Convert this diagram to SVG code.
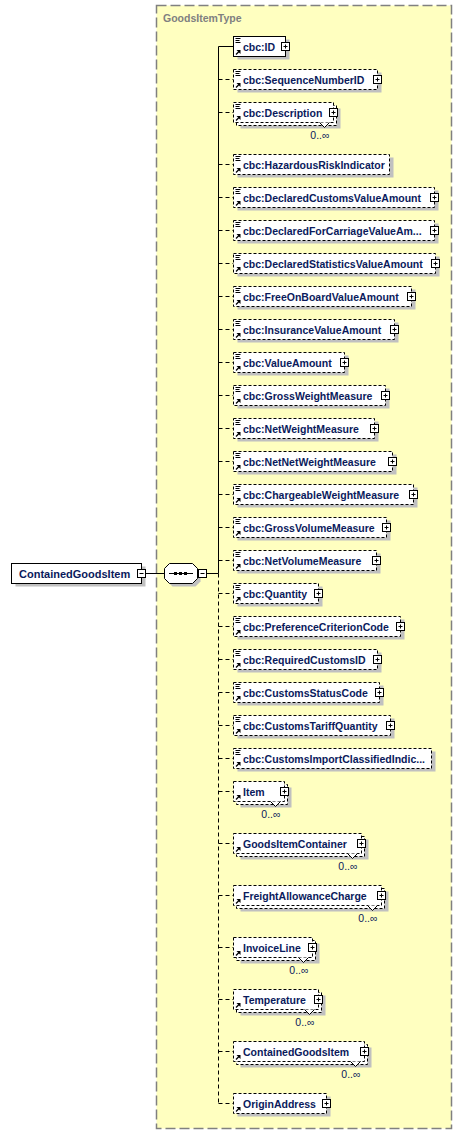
<svg xmlns="http://www.w3.org/2000/svg" xmlns:xlink="http://www.w3.org/1999/xlink" width="463" height="1135" viewBox="0 0 463 1135">
<style>
.bg{fill:#FFFFC0;stroke:#808080;stroke-width:1.5;stroke-dasharray:10,4}
.sh{fill:#C0C0C0}
.bx{fill:#fff;stroke:#000;stroke-width:1}
.opt{stroke-dasharray:3,2}
.n{font-family:"Liberation Sans",Arial,sans-serif;font-weight:bold;font-size:10.5px;fill:#0A1A5C}
.m{font-family:"Liberation Sans",Arial,sans-serif;font-size:10.5px;fill:#0A1A5C;text-anchor:end}
.ttl{font-family:"Liberation Sans",Arial,sans-serif;font-weight:bold;font-size:10.5px;fill:#808080}
.c{fill:none;stroke:#000;stroke-width:1}
.cd{fill:none;stroke:#000;stroke-width:1;stroke-dasharray:4,3}
.v{fill:#fff;stroke:#000;stroke-width:1}
</style>
<defs>
<g id="plus"><rect x="-4" y="-4" width="8" height="8" fill="#fff" stroke="#000"/><path d="M-2 0H2M0 -2V2" stroke="#000"/></g>
<g id="minus"><rect x="-4" y="-4" width="8" height="8" fill="#fff" stroke="#000"/><path d="M-2 0H2" stroke="#000"/></g>
<g id="lines"><path d="M0.5 0.5H5.5M0.5 2.5H4.5M0.5 4.5H5.5" stroke="#000" fill="none"/></g>
<g id="arrow"><path d="M1 4.5L4 1.5" stroke="#000" stroke-width="1.2" fill="none"/><path d="M1.5 0H5.5V4Z" fill="#000"/></g>
</defs>

<g id="GoodsItemType">
<rect class="bg" x="156.5" y="5.5" width="295" height="1123"/>
<text class="ttl" x="163" y="21.5">GoodsItemType</text>
</g>

<g id="connectors">
<path class="c" d="M146 573.5H164.5M206.5 573.5H218.5M218.5 46.5V573.5M218.5 46.5H233.5"/>
<path class="cd" d="M218.5 573.5V1103.5"/>
<path class="cd" d="M218.5 79.5H233.5M218.5 112.5H233.5M218.5 164.5H233.5M218.5 197.5H233.5M218.5 230.5H233.5M218.5 263.5H233.5M218.5 296.5H233.5M218.5 329.5H233.5M218.5 362.5H233.5M218.5 395.5H233.5M218.5 428.5H233.5M218.5 461.5H233.5M218.5 494.5H233.5M218.5 527.5H233.5M218.5 560.5H233.5M218.5 593.5H233.5M218.5 626.5H233.5M218.5 659.5H233.5M218.5 692.5H233.5M218.5 725.5H233.5M218.5 758.5H233.5M218.5 791.5H233.5M218.5 843.5H233.5M218.5 895.5H233.5M218.5 947.5H233.5M218.5 999.5H233.5M218.5 1051.5H233.5M218.5 1103.5H233.5"/>
</g>

<g id="root-ContainedGoodsItem">
<rect class="sh" x="15.5" y="566.5" width="130" height="20"/>
<rect class="bx" x="11.5" y="563.5" width="130" height="20"/>
<text class="n" x="19" y="578" style="font-size:11px">ContainedGoodsItem</text>
<use href="#minus" x="141.5" y="573.5"/>
</g>

<g id="sequence">
<polygon class="sh" points="172.5,566.5 195.5,566.5 200.5,571.5 200.5,581.5 195.5,586.5 172.5,586.5 167.5,581.5 167.5,571.5"/>
<polygon class="bx" points="169.5,563.5 192.5,563.5 197.5,568.5 197.5,578.5 192.5,583.5 169.5,583.5 164.5,578.5 164.5,568.5"/>
<path d="M169 573.5H193" stroke="#000"/>
<rect x="174" y="572" width="3" height="3" fill="#000"/>
<rect x="179" y="572" width="3" height="3" fill="#000"/>
<rect x="184" y="572" width="3" height="3" fill="#000"/>
<use href="#minus" x="202.5" y="573.5"/>
</g>

<g id="e-ID">
<rect class="sh" x="237.5" y="39.5" width="52" height="20"/>
<rect class="bx" x="233.5" y="36.5" width="52" height="20"/>
<use href="#lines" x="235" y="38"/><use href="#arrow" x="235" y="50"/>
<text class="n" x="243" y="50.5">cbc:ID</text>
<use href="#plus" x="285.5" y="46.5"/>
</g>

<g id="e-SequenceNumberID">
<rect class="sh" x="237.5" y="72.5" width="144" height="20"/>
<rect class="bx opt" x="233.5" y="69.5" width="144" height="20"/>
<use href="#lines" x="235" y="71"/><use href="#arrow" x="235" y="83"/>
<text class="n" x="243" y="83.5">cbc:SequenceNumberID</text>
<use href="#plus" x="377.5" y="79.5"/>
</g>

<g id="e-Description">
<rect class="sh" x="240.5" y="108.5" width="100" height="20"/>
<rect class="bx opt" x="236.5" y="105.5" width="100" height="20"/>
<rect class="bx opt" x="233.5" y="102.5" width="100" height="20"/>
<use href="#lines" x="235" y="104"/><use href="#arrow" x="235" y="116"/>
<text class="n" x="243" y="116.5">cbc:Description</text>
<use href="#plus" x="333.5" y="112.5"/>
<path class="v" d="M319.5 122.5L324.5 127.5L329.5 122.5"/>
<text class="m" x="329.5" y="139">0..∞</text>
</g>

<g id="e-HazardousRiskIndicator">
<rect class="sh" x="237.5" y="157.5" width="156" height="20"/>
<rect class="bx opt" x="233.5" y="154.5" width="156" height="20"/>
<use href="#lines" x="235" y="156"/><use href="#arrow" x="235" y="168"/>
<text class="n" x="243" y="168.5">cbc:HazardousRiskIndicator</text>
</g>

<g id="e-DeclaredCustomsValueAmount">
<rect class="sh" x="237.5" y="190.5" width="201" height="20"/>
<rect class="bx opt" x="233.5" y="187.5" width="201" height="20"/>
<use href="#lines" x="235" y="189"/><use href="#arrow" x="235" y="201"/>
<text class="n" x="243" y="201.5">cbc:DeclaredCustomsValueAmount</text>
<use href="#plus" x="434.5" y="197.5"/>
</g>

<g id="e-DeclaredForCarriageValueAmount">
<rect class="sh" x="237.5" y="223.5" width="201" height="20"/>
<rect class="bx opt" x="233.5" y="220.5" width="201" height="20"/>
<use href="#lines" x="235" y="222"/><use href="#arrow" x="235" y="234"/>
<text class="n" x="243" y="234.5">cbc:DeclaredForCarriageValueAm...</text>
<use href="#plus" x="434.5" y="230.5"/>
</g>

<g id="e-DeclaredStatisticsValueAmount">
<rect class="sh" x="237.5" y="256.5" width="202" height="20"/>
<rect class="bx opt" x="233.5" y="253.5" width="202" height="20"/>
<use href="#lines" x="235" y="255"/><use href="#arrow" x="235" y="267"/>
<text class="n" x="243" y="267.5">cbc:DeclaredStatisticsValueAmount</text>
<use href="#plus" x="435.5" y="263.5"/>
</g>

<g id="e-FreeOnBoardValueAmount">
<rect class="sh" x="237.5" y="289.5" width="178" height="20"/>
<rect class="bx opt" x="233.5" y="286.5" width="178" height="20"/>
<use href="#lines" x="235" y="288"/><use href="#arrow" x="235" y="300"/>
<text class="n" x="243" y="300.5">cbc:FreeOnBoardValueAmount</text>
<use href="#plus" x="411.5" y="296.5"/>
</g>

<g id="e-InsuranceValueAmount">
<rect class="sh" x="237.5" y="322.5" width="161" height="20"/>
<rect class="bx opt" x="233.5" y="319.5" width="161" height="20"/>
<use href="#lines" x="235" y="321"/><use href="#arrow" x="235" y="333"/>
<text class="n" x="243" y="333.5">cbc:InsuranceValueAmount</text>
<use href="#plus" x="394.5" y="329.5"/>
</g>

<g id="e-ValueAmount">
<rect class="sh" x="237.5" y="355.5" width="111" height="20"/>
<rect class="bx opt" x="233.5" y="352.5" width="111" height="20"/>
<use href="#lines" x="235" y="354"/><use href="#arrow" x="235" y="366"/>
<text class="n" x="243" y="366.5">cbc:ValueAmount</text>
<use href="#plus" x="344.5" y="362.5"/>
</g>

<g id="e-GrossWeightMeasure">
<rect class="sh" x="237.5" y="388.5" width="152" height="20"/>
<rect class="bx opt" x="233.5" y="385.5" width="152" height="20"/>
<use href="#lines" x="235" y="387"/><use href="#arrow" x="235" y="399"/>
<text class="n" x="243" y="399.5">cbc:GrossWeightMeasure</text>
<use href="#plus" x="385.5" y="395.5"/>
</g>

<g id="e-NetWeightMeasure">
<rect class="sh" x="237.5" y="421.5" width="141" height="20"/>
<rect class="bx opt" x="233.5" y="418.5" width="141" height="20"/>
<use href="#lines" x="235" y="420"/><use href="#arrow" x="235" y="432"/>
<text class="n" x="243" y="432.5">cbc:NetWeightMeasure</text>
<use href="#plus" x="374.5" y="428.5"/>
</g>

<g id="e-NetNetWeightMeasure">
<rect class="sh" x="237.5" y="454.5" width="159" height="20"/>
<rect class="bx opt" x="233.5" y="451.5" width="159" height="20"/>
<use href="#lines" x="235" y="453"/><use href="#arrow" x="235" y="465"/>
<text class="n" x="243" y="465.5">cbc:NetNetWeightMeasure</text>
<use href="#plus" x="392.5" y="461.5"/>
</g>

<g id="e-ChargeableWeightMeasure">
<rect class="sh" x="237.5" y="487.5" width="180" height="20"/>
<rect class="bx opt" x="233.5" y="484.5" width="180" height="20"/>
<use href="#lines" x="235" y="486"/><use href="#arrow" x="235" y="498"/>
<text class="n" x="243" y="498.5">cbc:ChargeableWeightMeasure</text>
<use href="#plus" x="413.5" y="494.5"/>
</g>

<g id="e-GrossVolumeMeasure">
<rect class="sh" x="237.5" y="520.5" width="153" height="20"/>
<rect class="bx opt" x="233.5" y="517.5" width="153" height="20"/>
<use href="#lines" x="235" y="519"/><use href="#arrow" x="235" y="531"/>
<text class="n" x="243" y="531.5">cbc:GrossVolumeMeasure</text>
<use href="#plus" x="386.5" y="527.5"/>
</g>

<g id="e-NetVolumeMeasure">
<rect class="sh" x="237.5" y="553.5" width="143" height="20"/>
<rect class="bx opt" x="233.5" y="550.5" width="143" height="20"/>
<use href="#lines" x="235" y="552"/><use href="#arrow" x="235" y="564"/>
<text class="n" x="243" y="564.5">cbc:NetVolumeMeasure</text>
<use href="#plus" x="376.5" y="560.5"/>
</g>

<g id="e-Quantity">
<rect class="sh" x="237.5" y="586.5" width="85" height="20"/>
<rect class="bx opt" x="233.5" y="583.5" width="85" height="20"/>
<use href="#lines" x="235" y="585"/><use href="#arrow" x="235" y="597"/>
<text class="n" x="243" y="597.5">cbc:Quantity</text>
<use href="#plus" x="318.5" y="593.5"/>
</g>

<g id="e-PreferenceCriterionCode">
<rect class="sh" x="237.5" y="619.5" width="167" height="20"/>
<rect class="bx opt" x="233.5" y="616.5" width="167" height="20"/>
<use href="#lines" x="235" y="618"/><use href="#arrow" x="235" y="630"/>
<text class="n" x="243" y="630.5">cbc:PreferenceCriterionCode</text>
<use href="#plus" x="400.5" y="626.5"/>
</g>

<g id="e-RequiredCustomsID">
<rect class="sh" x="237.5" y="652.5" width="144" height="20"/>
<rect class="bx opt" x="233.5" y="649.5" width="144" height="20"/>
<use href="#lines" x="235" y="651"/><use href="#arrow" x="235" y="663"/>
<text class="n" x="243" y="663.5">cbc:RequiredCustomsID</text>
<use href="#plus" x="377.5" y="659.5"/>
</g>

<g id="e-CustomsStatusCode">
<rect class="sh" x="237.5" y="685.5" width="146" height="20"/>
<rect class="bx opt" x="233.5" y="682.5" width="146" height="20"/>
<use href="#lines" x="235" y="684"/><use href="#arrow" x="235" y="696"/>
<text class="n" x="243" y="696.5">cbc:CustomsStatusCode</text>
<use href="#plus" x="379.5" y="692.5"/>
</g>

<g id="e-CustomsTariffQuantity">
<rect class="sh" x="237.5" y="718.5" width="157" height="20"/>
<rect class="bx opt" x="233.5" y="715.5" width="157" height="20"/>
<use href="#lines" x="235" y="717"/><use href="#arrow" x="235" y="729"/>
<text class="n" x="243" y="729.5">cbc:CustomsTariffQuantity</text>
<use href="#plus" x="390.5" y="725.5"/>
</g>

<g id="e-CustomsImportClassifiedIndicator">
<rect class="sh" x="237.5" y="751.5" width="198" height="20"/>
<rect class="bx opt" x="233.5" y="748.5" width="198" height="20"/>
<use href="#lines" x="235" y="750"/><use href="#arrow" x="235" y="762"/>
<text class="n" x="243" y="762.5">cbc:CustomsImportClassifiedIndic...</text>
</g>

<g id="e-Item">
<rect class="sh" x="240.5" y="787.5" width="51" height="20"/>
<rect class="bx opt" x="236.5" y="784.5" width="51" height="20"/>
<rect class="bx opt" x="233.5" y="781.5" width="51" height="20"/>
<use href="#arrow" x="235" y="795"/>
<text class="n" x="243" y="795.5">Item</text>
<use href="#plus" x="284.5" y="791.5"/>
<path class="v" d="M270.5 801.5L275.5 806.5L280.5 801.5"/>
<text class="m" x="280.5" y="818">0..∞</text>
</g>

<g id="e-GoodsItemContainer">
<rect class="sh" x="240.5" y="839.5" width="128" height="20"/>
<rect class="bx opt" x="236.5" y="836.5" width="128" height="20"/>
<rect class="bx opt" x="233.5" y="833.5" width="128" height="20"/>
<use href="#arrow" x="235" y="847"/>
<text class="n" x="243" y="847.5">GoodsItemContainer</text>
<use href="#plus" x="361.5" y="843.5"/>
<path class="v" d="M347.5 853.5L352.5 858.5L357.5 853.5"/>
<text class="m" x="357.5" y="870">0..∞</text>
</g>

<g id="e-FreightAllowanceCharge">
<rect class="sh" x="240.5" y="891.5" width="148" height="20"/>
<rect class="bx opt" x="236.5" y="888.5" width="148" height="20"/>
<rect class="bx opt" x="233.5" y="885.5" width="148" height="20"/>
<use href="#arrow" x="235" y="899"/>
<text class="n" x="243" y="899.5">FreightAllowanceCharge</text>
<use href="#plus" x="381.5" y="895.5"/>
<path class="v" d="M367.5 905.5L372.5 910.5L377.5 905.5"/>
<text class="m" x="377.5" y="922">0..∞</text>
</g>

<g id="e-InvoiceLine">
<rect class="sh" x="240.5" y="943.5" width="79" height="20"/>
<rect class="bx opt" x="236.5" y="940.5" width="79" height="20"/>
<rect class="bx opt" x="233.5" y="937.5" width="79" height="20"/>
<use href="#arrow" x="235" y="951"/>
<text class="n" x="243" y="951.5">InvoiceLine</text>
<use href="#plus" x="312.5" y="947.5"/>
<path class="v" d="M298.5 957.5L303.5 962.5L308.5 957.5"/>
<text class="m" x="308.5" y="974">0..∞</text>
</g>

<g id="e-Temperature">
<rect class="sh" x="240.5" y="995.5" width="85" height="20"/>
<rect class="bx opt" x="236.5" y="992.5" width="85" height="20"/>
<rect class="bx opt" x="233.5" y="989.5" width="85" height="20"/>
<use href="#arrow" x="235" y="1003"/>
<text class="n" x="243" y="1003.5">Temperature</text>
<use href="#plus" x="318.5" y="999.5"/>
<path class="v" d="M304.5 1009.5L309.5 1014.5L314.5 1009.5"/>
<text class="m" x="314.5" y="1026">0..∞</text>
</g>

<g id="e-ContainedGoodsItem">
<rect class="sh" x="240.5" y="1047.5" width="131" height="20"/>
<rect class="bx opt" x="236.5" y="1044.5" width="131" height="20"/>
<rect class="bx opt" x="233.5" y="1041.5" width="131" height="20"/>
<use href="#arrow" x="235" y="1055"/>
<text class="n" x="243" y="1055.5">ContainedGoodsItem</text>
<use href="#plus" x="364.5" y="1051.5"/>
<path class="v" d="M350.5 1061.5L355.5 1066.5L360.5 1061.5"/>
<text class="m" x="360.5" y="1078">0..∞</text>
</g>

<g id="e-OriginAddress">
<rect class="sh" x="237.5" y="1096.5" width="93" height="20"/>
<rect class="bx opt" x="233.5" y="1093.5" width="93" height="20"/>
<use href="#arrow" x="235" y="1107"/>
<text class="n" x="243" y="1107.5">OriginAddress</text>
<use href="#plus" x="326.5" y="1103.5"/>
</g>
</svg>
